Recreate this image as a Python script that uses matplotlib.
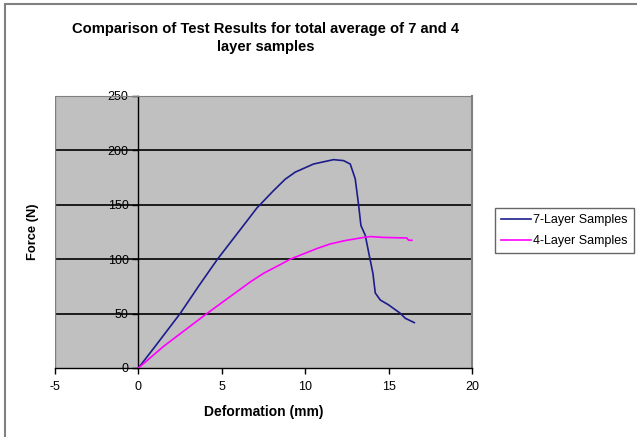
import matplotlib
matplotlib.use("Agg")
from matplotlib import pyplot as plt
from matplotlib.patches import Rectangle

plt.rcParams['font.family'] = ['Liberation Sans', 'DejaVu Sans']
plt.rcParams['axes.unicode_minus'] = False

# 7-layer average curve (deformation mm, force N)
def7 = [0, 1.0, 2.5, 3.6, 4.74, 6.3, 7.1, 8.1, 8.8, 9.4, 10.5, 11.7, 12.3, 12.7,
        13.0, 13.2, 13.34, 13.6, 13.86, 14.06, 14.2, 14.5, 15.0, 15.7, 16.0, 16.54]
force7 = [0, 19.8, 50, 75, 100, 131, 147, 163, 173.5, 180, 187.5, 191.5, 190.6, 187.5,
          173.8, 150, 131, 122, 102, 87, 69, 62.5, 58, 50.3, 45.7, 41.7]

# 4-layer average curve
def4 = [0, 1.5, 4.1, 6.7, 7.5, 8.5, 9.1, 10.7, 11.5, 12.3, 12.5, 13.5, 13.9,
        14.7, 16.1, 16.2, 16.4]
force4 = [0, 19.8, 50, 79, 87, 95, 100, 109.8, 114, 116.8, 117.4, 120, 120.8,
          120, 119.5, 117.4, 117.4]

xticks = [-5, 0, 5, 10, 15, 20]
yticks = [0, 50, 100, 150, 200, 250]

fig = plt.figure(figsize=(6.37, 4.37), dpi=100)
# outer chart frame (only left and top edges visible)
fig.patches.append(Rectangle((5 / 637, -0.1), 1.2, 1.1 - 4 / 437, transform=fig.transFigure,
                             fill=False, edgecolor='#808080', linewidth=1.5))

ax = fig.add_axes([55 / 637, 1 - 368 / 437, (472 - 55) / 637, (368 - 96) / 437])
ax.set_facecolor('#C0C0C0')
ax.set_xlim(-5, 20)
ax.set_ylim(0, 250)

for y in yticks[1:-1]:
    ax.axhline(y, color='black', linewidth=1.2, zorder=1)

ax.plot(def7, force7, color='#1C1C8C', linewidth=1.2, label='7-Layer Samples', zorder=3)
ax.plot(def4, force4, color='#FF00FF', linewidth=1.2, label='4-Layer Samples', zorder=3)

ax.spines['left'].set_position(('data', 0))
ax.spines['left'].set_color('black')
ax.spines['left'].set_linewidth(1.0)
ax.spines['bottom'].set_color('black')
ax.spines['bottom'].set_linewidth(1.0)
ax.spines['top'].set_color('#808080')
ax.spines['right'].set_color('#808080')
ax.spines['right'].set_linewidth(1.5)
ax.axvline(-5, color='#808080', linewidth=1.0)

ax.set_xticks(xticks)
ax.set_yticks(yticks)
ax.tick_params(axis='both', direction='out', length=4, width=1, labelsize=9, colors='black')
ax.tick_params(axis='x', pad=5)
ax.tick_params(axis='y', pad=3)

ax.set_xlabel('Deformation (mm)', fontsize=10, fontweight='bold', labelpad=9)
fig.text(33 / 637, 1 - 232 / 437, 'Force (N)', rotation=90, fontsize=9.3, fontweight='bold',
         ha='center', va='center')

fig.text(266 / 637, 1 - 38 / 437, 'Comparison of Test Results for total average of 7 and 4\nlayer samples',
         ha='center', va='center', fontsize=10.6, fontweight='bold', linespacing=1.35)

leg = ax.legend(loc='upper left', fontsize=9.0, frameon=True, fancybox=False,
                edgecolor='#404040', handlelength=2.4, borderpad=0.5, labelspacing=0.7,
                handletextpad=0.15, borderaxespad=0)
leg.set_bbox_to_anchor((495 / 637, 1 - 208 / 437), transform=fig.transFigure)
leg.get_frame().set_linewidth(1.0)

fig.savefig('out.png', dpi=100)
